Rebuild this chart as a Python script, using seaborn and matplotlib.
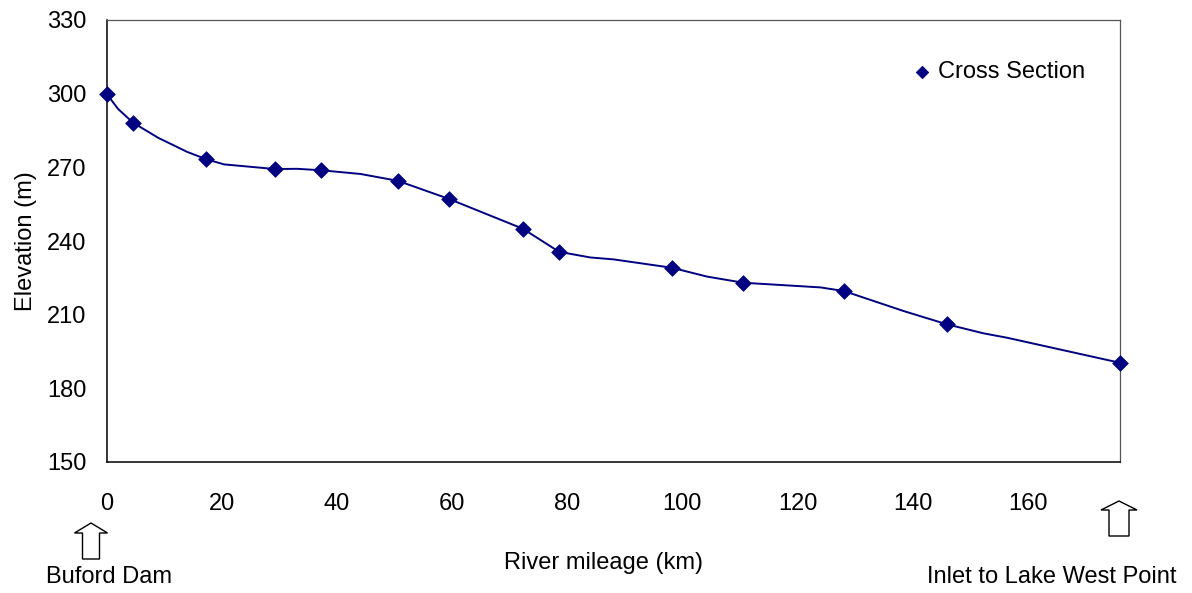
import matplotlib
matplotlib.use("Agg")
import matplotlib.pyplot as plt
from matplotlib.patches import Polygon
import numpy as np
import pandas as pd
import seaborn as sns

# Surveyed cross sections along the river (km from the dam, bed elevation in m)
section_km = [0.0, 4.6, 17.2, 29.3, 37.3, 50.6, 59.4, 72.3, 78.6, 98.2, 110.6, 128.1, 145.9, 176.0]
section_elev = [300.0, 288.2, 273.4, 269.3, 268.8, 264.5, 257.2, 245.0, 235.6, 229.1, 223.0, 219.6, 206.1, 190.4]

# Continuous longitudinal bed profile
profile_km = [0.0, 2.0, 4.6, 9.0, 14.0, 17.2, 20.4, 29.3, 33.1, 37.3, 44.1, 50.6, 59.4, 72.3, 78.6,
              84.0, 88.1, 98.2, 104.3, 110.6, 124.0, 128.1, 138.4, 145.9, 152.3, 156.4, 176.0]
profile_elev = [300.0, 293.8, 288.2, 282.0, 276.3, 273.4, 271.2, 269.3, 269.4, 268.8, 267.3, 264.5, 257.2,
                245.0, 235.6, 233.3, 232.5, 229.1, 225.5, 223.0, 221.1, 219.6, 211.5, 206.1, 202.4,
                200.6, 190.4]

x_ticks = [0, 20, 40, 60, 80, 100, 120, 140, 160]
y_ticks = [150, 180, 210, 240, 270, 300, 330]

sections = pd.DataFrame({"km": section_km, "elev": section_elev})
profile = pd.DataFrame({"km": profile_km, "elev": profile_elev})

sns.set_style("white")
plt.rcParams["font.family"] = ["Liberation Sans", "DejaVu Sans"]
for key in ("text.color", "axes.labelcolor", "xtick.color", "ytick.color"):
    plt.rcParams[key] = "black"
FS = 17
NAVY = "#000080"

W, H = 1192, 593
fig = plt.figure(figsize=(W / 100, H / 100), dpi=100)
ax = fig.add_axes([106.5 / W, 1 - 462 / H, (1120 - 106.5) / W, (462 - 20) / H])

sns.lineplot(data=profile, x="km", y="elev", ax=ax, color=NAVY, linewidth=1.4,
             legend=False, zorder=2)
sns.scatterplot(data=sections, x="km", y="elev", ax=ax, marker="D", s=64,
                color=NAVY, edgecolor=NAVY, linewidth=0.5, zorder=3,
                label="Cross Section", clip_on=False)

ax.set_xlim(0, 176)
ax.set_ylim(150, 330)
ax.set_xticks(x_ticks)
ax.set_yticks(y_ticks)
ax.tick_params(axis="both", direction="in", labelsize=FS, width=0.9, color="black")
ax.tick_params(axis="x", length=6, pad=22)
ax.tick_params(axis="y", length=6, pad=14.5)

for side in ("left", "bottom"):
    ax.spines[side].set_color("black")
    ax.spines[side].set_linewidth(1.1)
for side in ("top", "right"):
    ax.spines[side].set_color("#555555")
    ax.spines[side].set_linewidth(0.9)

ax.set_xlabel("River mileage (km)", fontsize=FS)
ax.set_ylabel("Elevation (m)", fontsize=FS)
ax.xaxis.set_label_coords(0.49, -0.203)
ax.yaxis.set_label_coords(-0.069, 0.5)

ax.legend(loc="center left", bbox_to_anchor=(0.795, 0.883), frameon=False,
          fontsize=FS, handlelength=0.8, handletextpad=0.28, borderpad=0,
          borderaxespad=0, markerscale=0.8)

# Overlay in pixel coordinates for the end-point annotations
ov = fig.add_axes([0, 0, 1, 1], facecolor="none")
ov.set_xlim(0, W)
ov.set_ylim(H, 0)
ov.axis("off")


def block_arrow(cx, top, bottom, shaft_w, head_w, head_len):
    pts = [
        (cx, top),
        (cx + head_w / 2, top + head_len),
        (cx + shaft_w / 2, top + head_len),
        (cx + shaft_w / 2, bottom),
        (cx - shaft_w / 2, bottom),
        (cx - shaft_w / 2, top + head_len),
        (cx - head_w / 2, top + head_len),
    ]
    ov.add_patch(Polygon(pts, closed=True, facecolor="white", edgecolor="black", linewidth=1.0))


block_arrow(91, 523, 559, 17, 33, 10)
block_arrow(1119, 501, 536, 20, 36, 9)
ov.text(109.5, 577, "Buford Dam", fontsize=FS, ha="center", va="center")
ov.text(1052, 577, "Inlet to Lake West Point", fontsize=FS, ha="center", va="center")

fig.savefig("out.png", dpi=100)
